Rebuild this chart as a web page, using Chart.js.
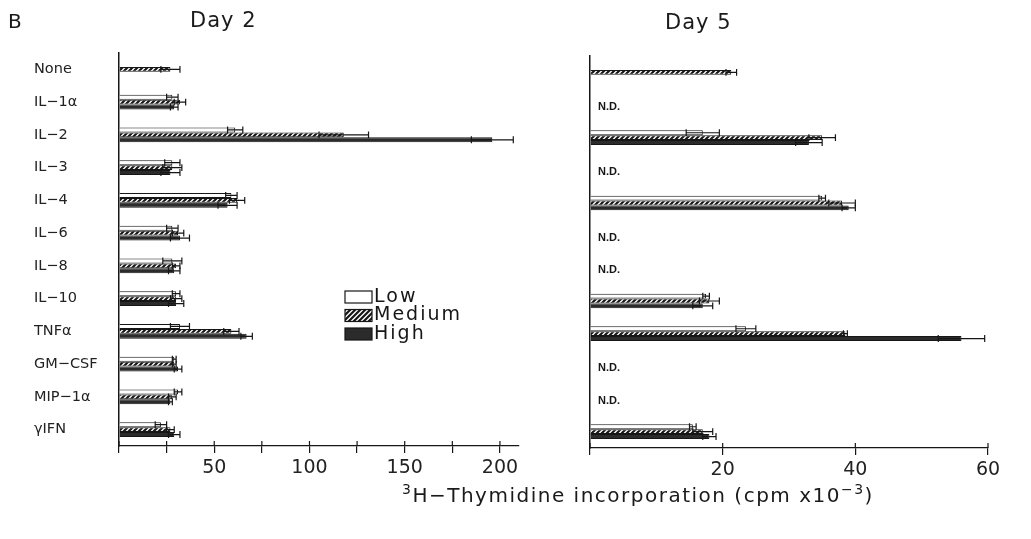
<!DOCTYPE html>
<html>
<head>
<meta charset="utf-8">
<script src="https://cdn.jsdelivr.net/npm/chart.js@4.4.0/dist/chart.umd.min.js"></script>
<style>
body{margin:0;background:#fff;width:1031px;height:539px;overflow:hidden;position:relative;font-family:"DejaVu Sans",sans-serif;color:#1a1a1a}
#wrap2{position:absolute;left:0;top:0;width:545px;height:539px}
#wrap5{position:absolute;left:545px;top:0;width:486px;height:539px}
.lbl{position:absolute;font-size:20px;white-space:nowrap;letter-spacing:1px}
.lbl sup{font-size:14px}
</style>
</head>
<body>
<div id="wrap2"><canvas id="day2"></canvas></div>
<div id="wrap5"><canvas id="day5"></canvas></div>
<div class="lbl" style="left:8px;top:9px">B</div>
<div class="lbl" style="left:190px;top:8px;font-size:21px">Day 2</div>
<div class="lbl" style="left:665px;top:10px;font-size:21px">Day 5</div>
<div class="lbl" style="left:402px;top:481px;font-size:20px;letter-spacing:1.5px"><sup>3</sup>H−Thymidine incorporation (cpm x10<sup>−3</sup>)</div>
<script>
// cytokines on the y axis, top to bottom
const cytokines = ['None', 'IL−1α', 'IL−2', 'IL−3', 'IL−4', 'IL−6', 'IL−8', 'IL−10', 'TNFα', 'GM−CSF', 'MIP−1α', 'γIFN'];
const seriesNames = ['Low', 'Medium', 'High'];

// Day 2 (cpm x10^-3)
const day2Low     = [null, 28, 61, 28, 59, 28, 28, 30, 32, 29, 31, 22];
const day2Med     = [27, 32, 118, 28, 62, 31, 30, 30, 59, 29, 28, 27];
const day2High    = [null, 29, 196, 27, 57, 32, 29, 30, 67, 31, 27, 29];
const day2LowErr  = [null, 3, 4, 4, 3, 3, 5, 2, 5, 1, 2, 3];
const day2MedErr  = [5, 3, 13, 5, 4, 3, 2, 3, 4, 1, 2, 2];
const day2HighErr = [null, 2, 11, 5, 5, 5, 3, 4, 3, 2, 1, 3];

// Day 5 (null = N.D.)
const day5Low     = [null, null, 17, null, 35, null, null, 17.5, 23.5, null, null, 15.5];
const day5Med     = [21.3, null, 35, null, 38, null, null, 18, 38.5, null, null, 17];
const day5High    = [null, null, 33, null, 39, null, null, 17, 56, null, null, 18];
const day5LowErr  = [null, null, 2.5, null, 0.5, null, null, 0.5, 1.5, null, null, 0.5];
const day5MedErr  = [0.8, null, 2, null, 2, null, null, 1.5, 0.3, null, null, 1.5];
const day5HighErr = [null, null, 2, null, 1, null, null, 1.5, 3.5, null, null, 1];

const day2Ticks = [50, 100, 150, 200];
const day5Ticks = [20, 40, 60];
const ndLabel = 'N.D.';

const ink = '#161616';

function hatchPattern() {
    const c = document.createElement('canvas');
    c.width = 5; c.height = 5;
    const g = c.getContext('2d');
    g.fillStyle = '#fff';
    g.fillRect(0, 0, 5, 5);
    g.strokeStyle = ink;
    g.lineWidth = 2.2;
    g.beginPath();
    g.moveTo(0, 5); g.lineTo(5, 0);
    g.moveTo(-2.5, 2.5); g.lineTo(2.5, -2.5);
    g.moveTo(2.5, 7.5); g.lineTo(7.5, 2.5);
    g.stroke();
    return g.createPattern(c, 'repeat');
}
const hatch = hatchPattern();
const fills = ['#fff', hatch, '#2b2b2b'];

// error bars drawn from each dataset's "errors" array
const errorBars = {
    id: 'errorBars',
    afterDatasetsDraw(chart) {
        const ctx = chart.ctx, xs = chart.scales.x;
        ctx.save();
        ctx.strokeStyle = ink;
        ctx.lineWidth = 1.2;
        chart.data.datasets.forEach((ds, i) => {
            const meta = chart.getDatasetMeta(i);
            meta.data.forEach((bar, j) => {
                const v = ds.data[j], e = ds.errors[j];
                if (v == null || e == null) return;
                const y = bar.y, h = bar.height / 2 + 1;
                const x1 = xs.getPixelForValue(v - e), x2 = xs.getPixelForValue(v + e);
                ctx.beginPath();
                ctx.moveTo(x1, y); ctx.lineTo(x2, y);
                ctx.moveTo(x2, y - h); ctx.lineTo(x2, y + h);
                ctx.moveTo(x1, y - h); ctx.lineTo(x1, y + h);
                ctx.stroke();
            });
        });
        ctx.restore();
    }
};

// N.D. labels where no bar exists, plus tick marks poking above the x axis
const notDone = {
    id: 'notDone',
    afterDraw(chart, args, opts) {
        const ctx = chart.ctx, ys = chart.scales.y, xs = chart.scales.x;
        ctx.save();
        ctx.strokeStyle = ink;
        ctx.lineWidth = 1.2;
        ctx.beginPath();
        xs.ticks.forEach(t => {
            const px = xs.getPixelForValue(t.value);
            ctx.moveTo(px, xs.top - 5); ctx.lineTo(px, xs.top);
        });
        ctx.stroke();
        if (opts.show) {
            ctx.fillStyle = ink;
            ctx.font = 'bold 11px "Liberation Sans", sans-serif';
            ctx.textBaseline = 'middle';
            chart.data.labels.forEach((lab, j) => {
                const empty = chart.data.datasets.every(ds => ds.data[j] == null);
                if (empty) ctx.fillText(ndLabel, chart.chartArea.left + 8, ys.getPixelForValue(j) + 2);
            });
        }
        ctx.restore();
    }
};

// boxed legend inside the Day 2 panel
const boxLegend = {
    id: 'boxLegend',
    afterDraw(chart, args, opts) {
        if (!opts.show) return;
        const ctx = chart.ctx;
        ctx.save();
        ctx.font = '19px "DejaVu Sans", sans-serif';
        ctx.letterSpacing = '2px';
        ctx.textBaseline = 'middle';
        chart.data.datasets.forEach((ds, i) => {
            const top = opts.y + i * 18.5;
            ctx.fillStyle = ds.backgroundColor;
            ctx.fillRect(opts.x, top, 27, 12);
            ctx.strokeStyle = ink;
            ctx.lineWidth = 1.2;
            ctx.strokeRect(opts.x, top, 27, 12);
            ctx.fillStyle = ink;
            ctx.fillText(ds.label, opts.x + 29, top + 6);
        });
        ctx.restore();
    }
};

function makePanel(id, series, errs, cfg) {
    const ctx = document.getElementById(id).getContext('2d');
    return new Chart(ctx, {
        type: 'bar',
        data: {
            labels: cytokines,
            datasets: series.map((d, i) => ({
                label: seriesNames[i],
                data: d,
                errors: errs[i],
                backgroundColor: fills[i],
                borderColor: ink,
                borderWidth: 1,
                categoryPercentage: 0.45,
                barPercentage: 1.0
            }))
        },
        options: {
            indexAxis: 'y',
            responsive: true,
            maintainAspectRatio: false,
            animation: false,
            layout: { padding: cfg.padding },
            plugins: {
                legend: { display: false },
                tooltip: { enabled: false },
                notDone: { show: cfg.nd },
                boxLegend: { show: cfg.legend, x: 345, y: 291 }
            },
            scales: {
                x: {
                    min: 0,
                    max: cfg.max,
                    afterBuildTicks: s => {
                        const t = [];
                        for (let v = 0; v <= cfg.max; v += cfg.step) t.push({ value: v });
                        s.ticks = t;
                    },
                    afterFit: s => { s.height = cfg.xHeight; },
                    ticks: {
                        autoSkip: false,
                        maxRotation: 0,
                        padding: 4,
                        color: '#222',
                        font: { family: '"DejaVu Sans", sans-serif', size: 19 },
                        callback: v => cfg.labels.includes(v) ? String(v) : ''
                    },
                    grid: { drawOnChartArea: false, tickLength: 7, color: ink, lineWidth: 1.2 },
                    border: { display: true, color: ink, width: 1.3 }
                },
                y: {
                    afterFit: s => { s.width = cfg.yWidth; },
                    ticks: {
                        display: cfg.yLabels,
                        crossAlign: 'far',
                        color: '#222',
                        font: { family: '"DejaVu Sans", sans-serif', size: 14.5 }
                    },
                    grid: { display: false },
                    border: { display: true, color: ink, width: 1.5 }
                }
            }
        },
        plugins: [errorBars, notDone, boxLegend]
    });
}

makePanel('day2',
    [day2Low, day2Med, day2High],
    [day2LowErr, day2MedErr, day2HighErr],
    { max: 210, step: 25, labels: day2Ticks, yLabels: true, yWidth: 85, xHeight: 93,
      padding: { left: 34, right: 26, top: 53, bottom: 0 }, nd: false, legend: true });

makePanel('day5',
    [day5Low, day5Med, day5High],
    [day5LowErr, day5MedErr, day5HighErr],
    { max: 60, step: 20, labels: day5Ticks, yLabels: false, yWidth: 45, xHeight: 91,
      padding: { left: 0, right: 43, top: 56, bottom: 0 }, nd: true, legend: false });
</script>
</body>
</html>
